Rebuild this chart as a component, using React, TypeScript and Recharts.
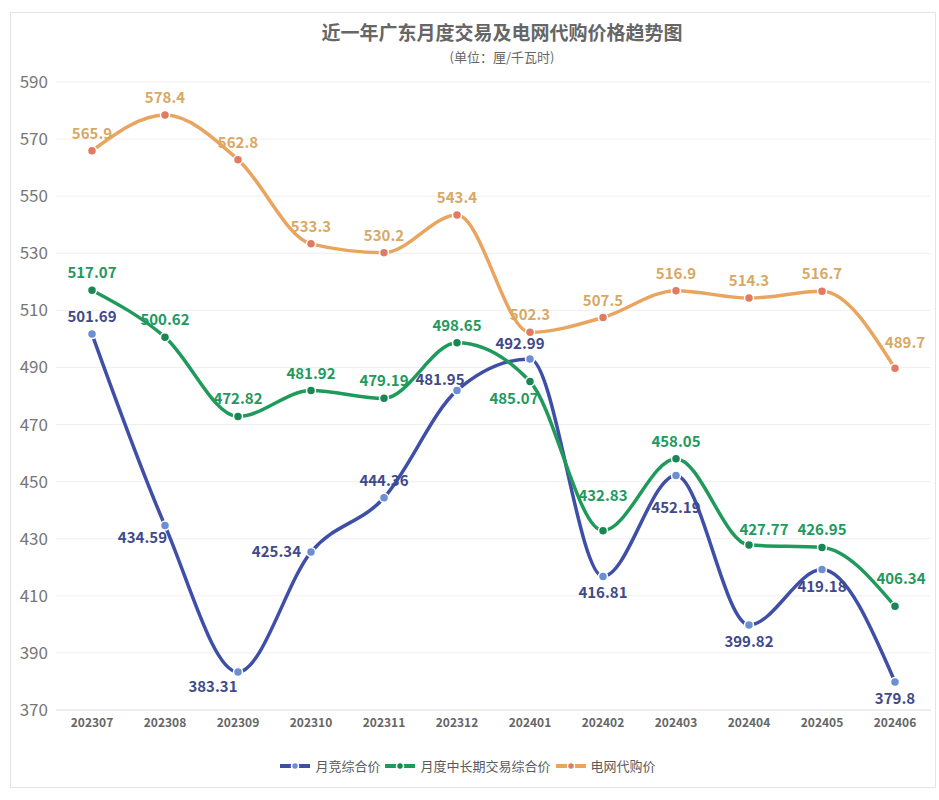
import React from 'react';
import {
  LineChart,
  Line,
  XAxis,
  YAxis,
  CartesianGrid,
  Legend,
} from 'recharts';

const months = [
  '202307', '202308', '202309', '202310', '202311', '202312',
  '202401', '202402', '202403', '202404', '202405', '202406',
];

// 月竞综合价
const spotPrice = [501.69, 434.59, 383.31, 425.34, 444.36, 481.95, 492.99, 416.81, 452.19, 399.82, 419.18, 379.8];
// 月度中长期交易综合价
const longTermPrice = [517.07, 500.62, 472.82, 481.92, 479.19, 498.65, 485.07, 432.83, 458.05, 427.77, 426.95, 406.34];
// 电网代购价
const gridPrice = [565.9, 578.4, 562.8, 533.3, 530.2, 543.4, 502.3, 507.5, 516.9, 514.3, 516.7, 489.7];

const yTicks = [370, 390, 410, 430, 450, 470, 490, 510, 530, 550, 570, 590];

// where each value label sits relative to its point
const spotPlace = ['t', 'l2', 'bl', 'l', 't', 'tl', 'tl2', 'b', 'bb', 'b', 'b', 'b'];
const longTermPlace = ['t', 't', 't', 't', 't', 't', 'bl2', 'tt', 't', 'tr2', 't', 'tt2'];
const gridPlace = ['t', 't', 't', 't', 't', 't', 't', 't', 't', 't', 't', 'tr'];

const FONT = '"Noto Sans CJK SC", "Noto Sans", sans-serif';

const offsets: Record<string, { dx: number; dy: number; anchor: 'start' | 'middle' | 'end' }> = {
  t: { dx: 0, dy: -12, anchor: 'middle' },
  tt: { dx: 0, dy: -30, anchor: 'middle' },
  tt2: { dx: 6, dy: -22, anchor: 'middle' },
  tl: { dx: -17, dy: -5, anchor: 'middle' },
  tl2: { dx: -10, dy: -10, anchor: 'middle' },
  tr: { dx: 10, dy: -20, anchor: 'middle' },
  tr2: { dx: 15, dy: -10, anchor: 'middle' },
  b: { dx: 0, dy: 22, anchor: 'middle' },
  bb: { dx: 0, dy: 38, anchor: 'middle' },
  bl: { dx: -25, dy: 20, anchor: 'middle' },
  bl2: { dx: -16, dy: 22, anchor: 'middle' },
  l: { dx: -10, dy: 5, anchor: 'end' },
  l2: { dx: 2, dy: 17, anchor: 'end' },
};

const data = months.map((m, i) => ({
  month: m,
  spot: spotPrice[i],
  longTerm: longTermPrice[i],
  grid: gridPrice[i],
}));

const series = [
  { key: 'spot', name: '月竞综合价', line: '#3f4ea6', dot: '#6b8fd2', label: '#3f4a8c', place: spotPlace },
  { key: 'longTerm', name: '月度中长期交易综合价', line: '#1f9a5b', dot: '#198653', label: '#22995d', place: longTermPlace },
  { key: 'grid', name: '电网代购价', line: '#e9a55e', dot: '#e27a62', label: '#d8a865', place: gridPlace },
];

function makeLabel(color: string, place: string[]) {
  return (props: any) => {
    const { x, y, value, index } = props;
    const o = offsets[place[index]] || offsets.t;
    return (
      <text
        x={x + o.dx}
        y={y + o.dy}
        textAnchor={o.anchor}
        fill={color}
        fontSize={15}
        fontWeight={600}
        fontFamily={FONT}
      >
        {value}
      </text>
    );
  };
}

function LegendContent() {
  return (
    <div style={{ display: 'flex', justifyContent: 'center', alignItems: 'center', fontFamily: FONT, fontSize: 13, color: '#5a5a5a' }}>
      {series.map((s) => (
        <div key={s.key} style={{ display: 'flex', alignItems: 'center', marginRight: 4 }}>
          <svg width={32} height={10} style={{ marginRight: 4 }}>
            <line x1={1} y1={5} x2={31} y2={5} stroke={s.line} strokeWidth={4} />
            <circle cx={16} cy={5} r={3.5} fill={s.dot} stroke="#fff" strokeWidth={1.5} />
          </svg>
          <span>{s.name}</span>
        </div>
      ))}
    </div>
  );
}

export default function App() {
  return (
    <div style={{ position: 'absolute', left: 0, top: 0, width: 939, height: 800, background: '#fff', fontFamily: FONT }}>
      <div style={{ position: 'absolute', left: 10, top: 12, width: 924, height: 774, border: '1px solid #e4e4e4' }} />
      <div style={{ position: 'absolute', left: 0, width: 1004, top: 22, lineHeight: '20px', textAlign: 'center', fontSize: 19, fontWeight: 700, color: '#666' }}>
        近一年广东月度交易及电网代购价格趋势图
      </div>
      <div style={{ position: 'absolute', left: 0, width: 1004, top: 50, lineHeight: '14px', textAlign: 'center', fontSize: 13, color: '#666' }}>
        (单位：厘/千瓦时)
      </div>
      <LineChart width={939} height={800} data={data} margin={{ top: 82, right: 8, left: 0, bottom: 60 }}>
        <CartesianGrid vertical={false} stroke="#efefef" />
        <XAxis
          dataKey="month"
          height={30}
          padding={{ left: 36, right: 36 }}
          tickLine={false}
          axisLine={{ stroke: '#e2e2e2' }}
          tick={{ fill: '#666', fontSize: 12, fontWeight: 700, fontFamily: FONT }}
          interval={0}
        />
        <YAxis
          width={56}
          domain={[370, 590]}
          ticks={yTicks}
          tickLine={false}
          axisLine={false}
          tick={{ fill: '#777', fontSize: 17, fontFamily: FONT }}
        />
        <Legend
          layout="horizontal"
          verticalAlign="middle"
          align="center"
          content={<LegendContent />}
          wrapperStyle={{ top: 756, left: 0, width: 939 }}
        />
        {series.map((s) => (
          <Line
            key={s.key}
            type="monotone"
            dataKey={s.key}
            name={s.name}
            stroke={s.line}
            strokeWidth={3.5}
            dot={{ r: 4.5, fill: s.dot, stroke: '#fff', strokeWidth: 1.5 }}
            activeDot={false}
            label={makeLabel(s.label, s.place)}
            isAnimationActive={false}
          />
        ))}
      </LineChart>
    </div>
  );
}
